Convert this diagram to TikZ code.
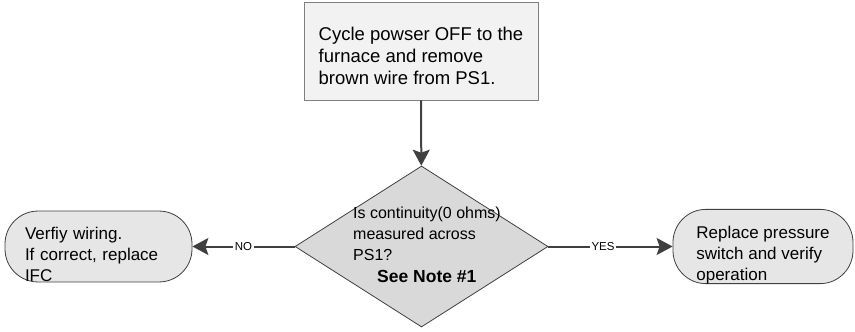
\documentclass[tikz,border=0pt]{standalone}
\usepackage{fontspec}
\setmainfont{Liberation Sans}
\usetikzlibrary{arrows.meta,shapes.geometric}
\definecolor{procfill}{HTML}{F2F2F2}
\definecolor{decfill}{HTML}{D9D9D9}
\definecolor{endfill}{HTML}{E6E6E6}
\definecolor{boxline}{HTML}{7F7F7F}
\definecolor{edgegray}{HTML}{404040}
% pushes a node's first line down
\newcommand\droptext[1]{\rule{0pt}{\dimexpr 0.75em+#1\relax}}

\begin{document}
\begin{tikzpicture}[x=1pt,y=-1pt,
  procbox/.style={draw=boxline,fill=procfill,line width=0.8pt,minimum width=234pt,minimum height=98pt,inner sep=0pt,align=left,font=\fontsize{18.5}{22}\selectfont},
  decision/.style={diamond,draw=edgegray,fill=decfill,line width=0.8pt,minimum width=253pt,minimum height=161pt,inner sep=0pt},
  dectext/.style={align=left,inner sep=0pt,font=\fontsize{16}{21}\selectfont},
  endbox/.style={draw=edgegray,fill=endfill,line width=0.8pt,rounded corners=33pt,minimum height=67pt,inner sep=0pt,align=left,font=\fontsize{17}{21}\selectfont},
  flow/.style={draw=edgegray,line width=2pt,-{Stealth[length=16pt,width=17pt,inset=3pt]}},
  answer/.style={fill=white,inner sep=1.5pt,font=\fontsize{11.5}{13}\selectfont}]
\useasboundingbox (0,0) rectangle (855,332);
% steps
\node[procbox] (cycle) at (421,51) {\droptext{10pt}Cycle powser OFF to the\\furnace and remove\\brown wire from PS1.};
\node[decision] (check) at (421.5,246.5) {};
\node[dectext,anchor=north west] (checktxt) at (353,207) {Is continuity(0 ohms)\\measured across\\PS1?\\[1pt]\hspace*{24pt}{\fontsize{17.5}{21}\selectfont\bfseries See Note \#1}};
\node[endbox,minimum width=187pt,text width=147pt] (fixwire) at (98.5,246.5) {\droptext{16pt}Verfiy wiring.\\If correct, replace\\IFC};
\node[endbox,minimum width=180pt] (newswitch) at (763,246.5) {\droptext{16pt}Replace pressure\\switch and verify\\operation};
% connectors
\draw[flow] (cycle) -- (check);
\draw[flow] (check.west) -- node[answer]{NO} (fixwire.east);
\draw[flow] (check.east) -- node[answer,pos=0.44]{YES} (newswitch.west);
\end{tikzpicture}
\end{document}
